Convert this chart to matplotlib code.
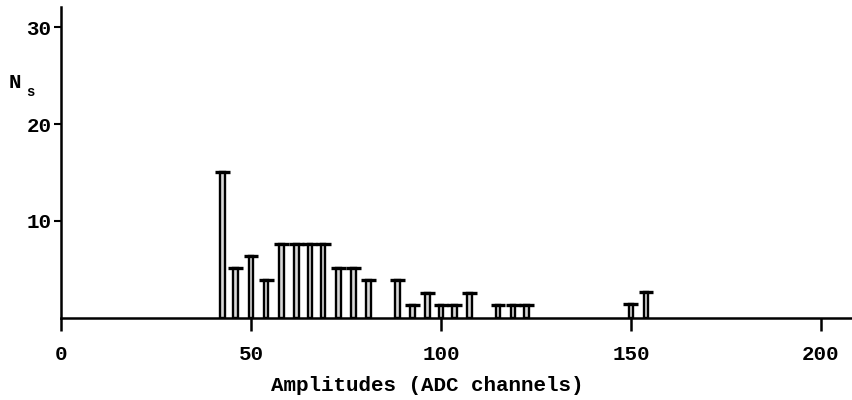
import matplotlib.pyplot as plt

# channel centres and heights
amplitudes = [42.5, 46, 50, 54, 58, 62, 65.5, 69, 73, 77, 81,
              88.5, 92.5, 96.5, 100, 103.5, 107.5, 115, 119, 122.5, 150, 154]
counts = [15.0, 5.1, 6.35, 3.85, 7.65, 7.65, 7.65, 7.65, 5.1, 5.1, 3.85,
          3.85, 1.3, 2.55, 1.3, 1.3, 2.55, 1.3, 1.3, 1.3, 1.35, 2.6]
x_ticks = [0, 50, 100, 150, 200]
y_ticks = [10, 20, 30]

font = "Liberation Mono"

fig = plt.figure(figsize=(8.52, 4), dpi=100)
ax = fig.add_axes([61 / 852, 82.5 / 400, 791 / 852, 310.5 / 400])

# thin outlined bars with a wide cap on top
ax.bar(amplitudes, counts, width=1.2, facecolor="#d8d8d8", edgecolor="black",
       linewidth=1.7, zorder=2)
ax.hlines(counts, [a - 1.95 for a in amplitudes], [a + 1.95 for a in amplitudes],
          color="black", linewidth=2.4, zorder=3)

ax.set_xlim(0, 208.2)
ax.set_ylim(0, 32.1)

for side in ["top", "right"]:
    ax.spines[side].set_visible(False)
ax.spines["left"].set_linewidth(1.8)
ax.spines["bottom"].set_linewidth(1.8)

ax.set_xticks(x_ticks)
ax.set_yticks(y_ticks)
ax.tick_params(axis="x", direction="out", length=9, width=1.8, pad=11,
               labelsize=15)
ax.tick_params(axis="y", direction="out", length=5, width=1.5, pad=2,
               labelsize=15)
for lab in ax.get_xticklabels() + ax.get_yticklabels():
    lab.set_fontfamily(font)
    lab.set_fontweight("bold")

ax.set_xlabel("Amplitudes (ADC channels)", fontsize=15, fontfamily=font,
              fontweight="bold")
ax.xaxis.set_label_coords(0.463, -0.19)

fig.text(9 / 852, 1 - 82 / 400, "N", fontsize=15, fontfamily=font,
         fontweight="bold", va="center", ha="left")
fig.text(26 / 852, 1 - 92 / 400, "s", fontsize=10, fontfamily=font,
         fontweight="bold", va="center", ha="left")

fig.savefig("out.png", dpi=100)
